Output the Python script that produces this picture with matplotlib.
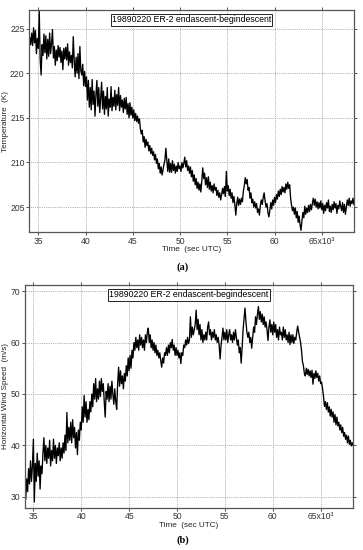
import numpy as np
import matplotlib
matplotlib.use("Agg")
import matplotlib.pyplot as plt

# time axis in thousands of seconds UTC (0.1 ks sampling)
time_ks = np.round(np.arange(340, 685) / 10.0, 1)

temperature_K = [
    223.0, 224.0, 223.2, 224.5, 223.1, 225.1, 223.4, 224.8, 222.2, 223.9,
    222.8, 227.0, 221.5, 219.8, 223.2, 222.0, 224.4, 222.3, 224.2, 221.6,
    223.8, 221.9, 224.5, 222.2, 223.3, 224.9, 221.7, 223.0, 220.9, 222.6,
    221.4, 223.1, 221.8, 222.9, 221.2, 222.5, 220.4, 222.8, 221.6, 222.9,
    221.5, 223.3, 220.9, 222.4, 221.2, 222.0, 220.6, 224.1, 221.4, 219.6,
    221.8, 220.0, 222.2, 219.4, 223.0, 220.3, 219.8, 221.0, 218.6, 220.2,
    218.5, 219.6, 217.0, 219.2, 216.2, 218.4, 215.9, 219.3, 216.5, 218.0,
    215.2, 217.6, 219.2, 216.3, 218.4, 215.6, 217.2, 219.0, 216.0, 218.0,
    215.4, 217.4, 216.0, 218.4, 215.2, 217.1, 216.2, 218.5, 215.8, 217.3,
    216.3, 218.1, 215.9, 217.6, 216.4, 218.4, 215.8, 217.5, 216.2, 217.0,
    215.6, 217.2, 216.0, 217.3, 215.4, 216.6, 215.0, 216.7, 215.3, 216.2,
    215.0, 215.9, 214.7, 215.5, 214.6, 215.2, 214.4, 214.9, 213.8, 213.2,
    213.6, 212.3, 212.9, 211.7, 212.6, 211.9, 212.3, 211.3, 211.9, 211.0,
    211.6, 210.8, 211.2, 210.3, 210.9, 209.9, 210.4, 209.3, 209.9, 208.8,
    209.5, 208.6, 209.2, 209.8, 210.3, 211.6, 210.2, 209.0, 210.4, 208.9,
    209.9, 208.9, 210.2, 209.1, 209.8, 208.8, 209.6, 209.0, 210.0, 209.3,
    209.6, 209.0, 210.0, 209.4, 209.9, 210.6, 209.5, 210.2, 209.1, 209.6,
    208.8, 209.5, 208.4, 209.1, 207.9, 208.6, 207.5, 208.2, 207.1, 207.8,
    206.9, 207.6, 206.7, 207.9, 209.4, 208.2, 208.8, 207.5, 208.3, 207.2,
    208.4, 207.0, 207.8, 206.8, 207.4, 206.6, 207.6, 206.9, 207.2, 206.3,
    206.9, 206.1, 206.6, 205.8, 206.4, 207.1, 206.5, 207.3, 206.2, 209.0,
    206.8, 207.4, 206.3, 207.0, 206.0, 206.6, 205.5, 206.2, 205.3, 204.1,
    205.4, 206.1, 205.2, 205.9, 205.3, 206.0, 205.6, 206.8, 207.4, 208.3,
    207.6, 208.1, 206.9, 207.2, 206.0, 206.6, 205.5, 205.9, 205.0, 205.6,
    204.9, 205.4, 204.4, 204.8, 204.1, 205.2, 205.8, 205.3, 206.1, 206.6,
    205.7, 205.0, 205.4, 204.4, 203.9, 204.6, 205.5, 204.8, 205.8, 205.2,
    206.1, 205.5, 206.4, 205.9, 206.8, 206.2, 207.0, 206.4, 207.3, 206.7,
    207.2, 206.6, 207.6, 207.0, 207.8, 207.1, 207.5, 206.0, 205.2, 204.6,
    205.0, 204.2, 204.9, 203.8, 204.5, 203.3, 204.0, 203.0, 202.4, 203.5,
    204.4, 203.8, 205.1, 204.2, 204.9, 204.4, 205.2, 204.5, 205.3, 204.7,
    205.4, 206.0, 205.2, 205.9, 205.0, 205.6, 204.8, 205.5, 204.9, 205.7,
    204.7, 205.4, 204.3, 205.2, 204.6, 205.5, 204.9, 205.8, 204.5, 205.1,
    204.4, 205.3, 204.7, 205.6, 204.9, 205.4, 204.3, 205.2, 204.8, 205.7,
    205.1, 204.6, 205.5, 204.4, 205.3, 204.2, 205.0, 205.8, 205.2, 206.0,
    205.1, 205.7, 205.4, 206.0, 205.3,
]

wind_speed_ms = [
    30.5, 32.0, 29.5, 33.5, 31.0, 35.5, 32.5, 37.0, 33.0, 36.0,
    41.2, 29.0, 36.5, 33.0, 38.5, 34.0, 37.0, 31.5, 36.0, 34.5,
    38.5, 41.5, 37.0, 40.0, 36.5, 39.5, 37.5, 41.0, 36.0, 39.0,
    37.0, 41.2, 37.5, 40.0, 36.5, 39.5, 38.0, 40.5, 37.0, 39.5,
    37.5, 40.5, 38.5, 42.0, 39.0, 46.4, 40.5, 43.5, 41.0, 44.5,
    40.5, 45.0, 41.5, 43.5, 39.5, 42.5, 38.2, 43.0, 41.0, 44.5,
    43.0, 47.5, 44.5, 49.7, 45.5, 48.5, 44.5, 47.0, 45.0, 48.5,
    46.5, 50.0, 47.5, 52.0, 49.0, 53.0, 48.5, 51.0, 49.0, 52.5,
    49.5, 53.0, 50.5, 52.0, 48.5, 45.5, 50.5, 49.0, 52.0, 48.5,
    51.5, 49.0, 52.5, 50.0, 48.0, 51.0, 48.5, 47.0, 52.0, 55.2,
    51.5, 54.5, 52.0, 53.5, 51.0, 54.0, 52.5, 55.5, 53.5, 57.0,
    54.5, 57.5, 55.0, 58.5, 57.0, 60.0, 58.5, 61.0, 59.0, 60.5,
    58.5, 61.5, 59.5, 61.0, 59.0, 60.5, 58.5, 61.5, 60.0, 62.0,
    62.8, 60.0, 61.5, 59.0, 60.5, 58.5, 60.0, 58.0, 59.5, 57.5,
    58.5, 57.0, 58.0, 56.5, 55.2, 57.0, 56.0, 58.0, 57.5, 59.0,
    57.5, 59.5, 58.0, 60.0, 59.0, 60.6, 58.5, 59.5, 57.5, 59.0,
    57.5, 58.5, 57.0, 58.0, 55.9, 58.0, 57.5, 59.5, 59.0, 60.5,
    59.5, 61.0, 59.8, 60.5, 65.0, 61.0, 63.0, 61.5, 62.5, 63.5,
    66.3, 62.5, 64.5, 61.5, 63.5, 60.5, 62.5, 60.0, 61.5, 60.5,
    62.0, 60.5, 63.0, 64.0, 61.5, 62.5, 60.5, 62.0, 61.0, 62.5,
    60.5, 61.5, 60.0, 61.0, 59.5, 56.8, 59.5, 61.0, 62.8, 60.5,
    62.0, 60.5, 62.5, 60.0, 61.5, 62.5, 60.5, 61.5, 60.0, 62.0,
    60.5, 62.5, 61.0, 59.5, 60.5, 58.0, 59.0, 56.0, 59.0, 62.5,
    64.5, 66.7, 64.0, 62.0, 61.0, 62.0, 60.0, 61.0, 58.9, 61.0,
    63.0, 62.0, 65.0, 63.5, 65.5, 67.0, 64.5, 66.0, 64.0, 65.5,
    63.5, 65.0, 63.0, 64.0, 62.5, 60.4, 63.0, 64.4, 62.0, 63.5,
    61.5, 64.0, 62.0, 63.5, 61.0, 62.5, 60.5, 63.0, 61.5, 62.0,
    60.5, 63.0, 61.0, 62.5, 60.5, 61.5, 60.0, 62.0, 59.6, 61.5,
    60.0, 61.5, 59.8, 61.0, 60.5, 62.0, 63.2, 62.0, 61.0, 60.1,
    58.5, 56.3, 55.5, 54.0, 53.5, 55.0, 53.8, 54.8, 53.5, 54.5,
    53.2, 54.6, 51.9, 54.0, 53.0, 54.5, 53.2, 54.0, 52.5, 53.5,
    52.0, 52.3, 51.0, 49.5, 47.6, 48.5, 47.0, 48.3, 46.5, 47.5,
    45.7, 47.0, 45.5, 46.5, 44.5, 46.0, 44.0, 45.5, 43.8, 44.5,
    43.0, 44.0, 42.5, 43.5, 41.8, 42.5, 41.2, 42.0, 40.5, 41.8,
    40.2, 41.0, 39.9, 40.5, 40.0,
]

x_ticks = [35, 40, 45, 50, 55, 60, 65]
x_tick_labels = ["35", "40", "45", "50", "55", "60", "65x10\u00b3"]
temp_ticks = [205, 210, 215, 220, 225]
wind_ticks = [30, 40, 50, 60, 70]
title_text = "19890220 ER-2 endascent-begindescent"

plt.rcParams['font.family'] = ['Liberation Sans', 'DejaVu Sans']
fig = plt.figure(figsize=(3.63, 5.5), dpi=100)

def style(ax, yticks, ylabel):
    ax.set_xticks(x_ticks)
    ax.set_xticklabels(x_tick_labels)
    ax.set_yticks(yticks)
    ax.grid(True, color='#999999', linestyle=(0, (1, 1.2)), linewidth=0.6)
    ax.tick_params(axis='both', which='both', direction='out', length=2,
                   width=0.6, labelsize=6.2, pad=1.2, colors='#333333',
                   top=True, right=True)
    for s in ax.spines.values():
        s.set_color('#555555')
        s.set_linewidth(0.9)
    ax.set_xlabel("Time  (sec UTC)", fontsize=5.9, labelpad=0.3, color='#222222')
    ax.set_ylabel(ylabel, fontsize=5.9, labelpad=1.0, color='#222222')
    ax.text(0.5, 0.955, title_text, transform=ax.transAxes, ha='center',
            va='center', fontsize=6.3,
            bbox=dict(boxstyle='square,pad=0.15', fc='white', ec='#222222', lw=0.7))

ax1 = fig.add_axes([0.080, 0.578, 0.895, 0.404])
ax1.plot(time_ks, temperature_K, color='black', linewidth=0.95)
ax1.set_xlim(34.02, 68.4)
ax1.set_ylim(202.2, 227.1)
style(ax1, temp_ticks, "Temperature  (K)")

ax2 = fig.add_axes([0.069, 0.077, 0.904, 0.405])
ax2.plot(time_ks, wind_speed_ms, color='black', linewidth=0.95)
ax2.set_xlim(34.13, 68.4)
ax2.set_ylim(27.9, 71.2)
style(ax2, wind_ticks, "Horizontal Wind Speed  (m/s)")

fig.text(0.504, 0.515, "(a)", ha='center', va='center', fontsize=7.5,
         family='Liberation Serif', weight='bold')
fig.text(0.504, 0.017, "(b)", ha='center', va='center', fontsize=7.5,
         family='Liberation Serif', weight='bold')

fig.savefig("out.png", dpi=100)
